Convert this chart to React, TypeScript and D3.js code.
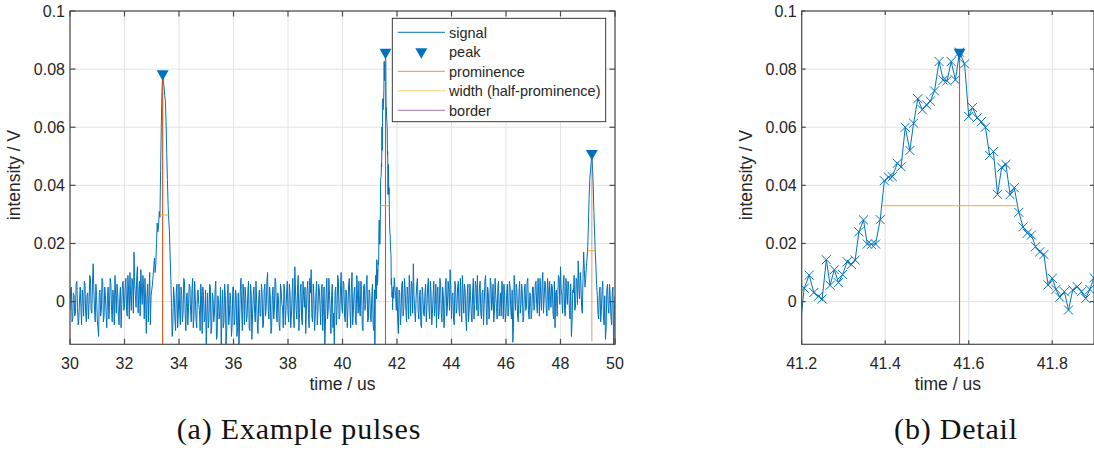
import * as d3 from 'd3';
import React from 'react';

// overview signal in mV, one sample every 0.05 us starting at 30 us
const T0 = 30;
const DT = 0.05;
const signalMv = [
  -3, 5, -6, 2, -4, 7, -8, 1, -2, 4, -5, 6, -7, 3, -1, 8, -4, 13, -3, 6,
  -6, -12, 4, -3, 7, -5, 2, -9, 5, -2, 6, -7, 1, 9, -4, 3, -8, 5, -1, 7,
  -2, 8, -5, 4, 10, -3, 6, 17, 2, 9, -4, 7, 11, -1, 5, 8, -11, 6, 3, -8,
  4, 9, 15, 13, 27, 26, 29, 60, 78.4, 74, 69, 51, 33, 24, 8, -12, 5, -6, 3, -9,
  6, -8, 2, -4, 7, -10, 3, -2, 5, -7, 8, -5, 1, -9, 4, -3, 6, -11, 2, -6,
  -17, 3, -6, 5, -9, 1, -4, 7, -12, 0, -3, -18, 4, -7, 2, -10, 6, -5, -1, -8,
  5, -6, 2, -9, -17, 4, -3, 6, -8, 1, -5, 7, -10, 3, -4, 5, -7, 0, -11, 4,
  -5, 3, -8, 6, -2, 10, -6, 2, -9, 5, -3, 7, -7, 1, -10, 4, -2, 6, -8, 3,
  -4, 6, -9, 2, -5, 12, -3, 5, -10, 3, -6, 7, -2, -11, 4, -4, 8, 11, -7, 2,
  -5, 7, -3, 4, -8, 6, -2, -16, 3, -6, 8, -4, 2, -9, -16, 5, -3, 7, -5, 10,
  -4, 6, -7, 3, -2, 8, -9, 10, -3, 5, -8, 2, 7, -5, 4, -10, 6, -1, 9, -6,
  3, -7, 6, -10, -4, 1, 11, 27, 42, 58, 68, 79, 64, 50, 37, 23, 8, 4, 8, 2,
  5, -11, 3, -4, 7, -2, 4, -7, 2, 9, -5, 6, 13, -3, 1, 8, -6, 4, -9, 2,
  -5, 6, -2, 8, -6, 3, -4, 7, -1, -9, 5, -3, 6, -7, 2, -4, 8, -2, 4, 11,
  -6, 3, -8, 5, -2, 7, -5, 1, 9, -4, 4, -10, 6, -3, 2, -7, 8, -1, 5, 9,
  -3, 7, -6, 4, -1, 9, -8, 3, -4, 6, 0, -7, 8, -2, 5, -5, 3, 7, -6, 2,
  -4, 6, -2, 5, -6, -14, 9, -3, 4, -7, 7, -1, 3, -5, 6, -2, 8, -6, 2, -3,
  5, -2, 7, -4, 3, 8, -3, 10, 1, 6, -5, 4, 7, -2, 5, -6, -9, 4, 2, 8,
  12, 2, 6, -3, 8, -1, 5, -6, -12, 4, 9, -2, 7, 14, 1, 6, -4, 17, 5, 12,
  19, 36, 45, 51, 40, 24, 12, 2, -6, 5, -3, 7, -8, -13, 4, -2, 6, -5, 3, -16, 2,
];
// the samples in between, at 30.025 + k * 0.05 us
const signalMidMv = [
  4, -7, 3, -5, 6, -2, -6, 5, -8, 1, 7, -4, 2, -6, 9, -3, 6, 4, -7, 2,
  -9, 3, -5, 8, -7, 5, -4, 2, -6, 8, -3, 4, -8, 2, 6, -5, 1, -9, 6, -3,
  5, -3, 9, -6, 2, 8, -4, 6, -2, 12, 3, -5, 4, 9, -6, 1, 2, -7, 10, 2,
  6, 12, 10, 20, 24, 31, 45, 72, 76, 71, 62, 42, 28, 15, -2, -8, 2, -10, 6, -4,
  -3, 5, -7, 8, -4, 2, -8, 6, -3, 4, -9, 7, -6, 3, -1, -10, 2, 5, -7, 4,
  -4, -9, 6, -11, 3, -7, 4, -13, 2, -6, 5, -3, -9, 6, -15, 2, -8, 3, -12, 5,
  -8, 4, -12, 3, -6, 8, -10, 2, 5, -7, 3, -9, 6, -13, 2, -4, 7, -8, 1, -5,
  6, -9, 4, -5, 7, -3, 5, -11, 2, -6, 8, -4, 3, -8, 6, -1, -9, 4, -3, 7,
  -7, 3, -5, 8, -9, 4, -6, 9, -4, 6, -8, 2, 5, -3, 7, -9, 3, -5, 6, -10,
  3, -8, 6, -2, 4, -10, 5, -7, 8, -3, 2, -11, 6, -4, 3, -8, 9, -6, 4, -2,
  7, -5, 4, -9, 6, -3, 5, -8, 3, -6, 9, -4, -2, 7, -8, 5, -3, 6, -7, 4,
  -5, 2, -8, 4, -2, 5, 18, 35, 50, 63, 74, 72, 57, 43, 30, 15, 6, 2, 5, -3,
  -6, 4, -8, 6, -5, 8, -3, 5, -6, 3, 7, -4, 2, -7, 6, -3, 2, -8, 5, -4,
  3, -7, 5, -3, 7, -8, 2, -5, 6, 3, -6, 8, -4, 5, -9, 6, -5, 7, -3, 4,
  2, -6, 7, -4, 5, -3, 8, -7, 3, 6, -5, 2, -7, 6, -4, 3, -6, 7, -3, -5,
  5, -4, 3, -8, 7, -2, 5, -6, 8, -3, 6, -4, 2, -6, 7, -2, -5, 4, 6, -7,
  3, -5, 7, -3, 4, -9, 2, 6, -5, 3, -4, 6, -7, 4, -3, 7, -4, 3, -6, 5,
  -3, 6, -1, 8, -5, 2, 6, -4, 7, -2, 8, -3, 2, 6, -4, 7, 3, -5, 9, -1,
  4, -4, 9, -5, 3, 7, -3, 6, -7, 3, -3, 8, -1, 5, 10, -2, 8, 11, 8, 15,
  27, 42, 48, 46, 31, 17, 6, -4, 3, -7, 4, -5, 2, -9, 6, -4, 2, -8, 5, -3,
];

// detail around the second pulse (us, V)
const detailTime = [
  41.188, 41.206, 41.218, 41.229, 41.24, 41.249, 41.259, 41.268, 41.278, 41.288,
  41.298, 41.309, 41.319, 41.328, 41.337, 41.348, 41.357, 41.367, 41.377, 41.388,
  41.398, 41.408, 41.417, 41.429, 41.438, 41.448, 41.459, 41.468, 41.478, 41.489,
  41.499, 41.508, 41.518, 41.529, 41.539, 41.548, 41.558, 41.568, 41.578, 41.59,
  41.6, 41.609, 41.62, 41.63, 41.64, 41.65, 41.659, 41.669, 41.679, 41.689,
  41.699, 41.709, 41.72, 41.73, 41.74, 41.75, 41.76, 41.77, 41.78, 41.79,
  41.8, 41.809, 41.818, 41.829, 41.839, 41.849, 41.86, 41.87, 41.88, 41.89, 41.9,
];
const detailV = [
  -0.02, 0.0046, 0.0091, 0.0031, 0.0018, 0.0009, 0.0144, 0.0056, 0.011, 0.0065,
  0.0093, 0.0137, 0.0128, 0.0143, 0.024, 0.0281, 0.0198, 0.0197, 0.0198, 0.0282,
  0.0416, 0.0428, 0.043, 0.0476, 0.0464, 0.06, 0.052, 0.0614, 0.0698, 0.066,
  0.0677, 0.069, 0.0725, 0.0826, 0.0762, 0.076, 0.0826, 0.0763, 0.0858, 0.0818,
  0.0637, 0.0668, 0.0632, 0.0619, 0.06, 0.0503, 0.0516, 0.0369, 0.0462, 0.0472,
  0.0368, 0.0392, 0.0307, 0.0257, 0.0235, 0.0229, 0.0189, 0.0171, 0.0162, 0.0057,
  0.008, 0.0042, 0.0015, 0.0034, -0.0029, 0.004, 0.0051, 0.0034, 0.0011, 0.0042, 0.0082,
];

const peakTime = [33.4, 41.578, 49.15];
const peakV = [0.0784, 0.0858, 0.051];
const promBase = [-0.02, -0.0198, -0.0137];
const widthLeft = [33.31, 41.393, 49.0];
const widthRight = [33.62, 41.717, 49.27];
const widthLevel = [0.0298, 0.033, 0.0175];

const xTicksA = [30, 32, 34, 36, 38, 40, 42, 44, 46, 48, 50];
const xTicksB = [41.2, 41.4, 41.6, 41.8];
const yTicks = [0, 0.02, 0.04, 0.06, 0.08, 0.1];
const legendLabels = ['signal', 'peak', 'prominence', 'width (half-prominence)', 'border'];

const SANS = "'Liberation Sans', Arial, Helvetica, sans-serif";
const INK = '#262626';
const GRID = '#e2e2e2';
const BLUE = '#0072BD';
const RED = '#D95319';
const YEL = '#EDB120';
const PURP = '#7E2F8E';

const TOP = 11;
const BOTTOM = 344.3;
const y = d3.scaleLinear().domain([-0.0147, 0.1]).range([BOTTOM, TOP]);
const xA = d3.scaleLinear().domain([30, 50]).range([70, 615]);
const xB = d3.scaleLinear().domain([41.2, 41.9]).range([801.7, 1094]);

type Pt = [number, number];
type Scale = d3.ScaleLinear<number, number>;

const triangle = d3.symbol(d3.symbolTriangle, 62)() as string;
const cross = d3.symbol(d3.symbolX, 55)() as string;

function Grid({ x, ticks }: { x: Scale; ticks: number[] }) {
  const [x0, x1] = x.range();
  return (
    <g stroke={GRID} strokeWidth={1}>
      {ticks.map(t => <line key={'v' + t} x1={x(t)} x2={x(t)} y1={TOP} y2={BOTTOM} />)}
      {yTicks.map(t => <line key={'h' + t} x1={x0} x2={x1} y1={y(t)} y2={y(t)} />)}
    </g>
  );
}

function Frame({ x, ticks, tick }: { x: Scale; ticks: number[]; tick: number }) {
  const [x0, x1] = x.range();
  return (
    <g>
      <rect x={x0} y={TOP} width={x1 - x0} height={BOTTOM - TOP} fill="none" stroke="#4a4a4a" strokeWidth={1.2} />
      <g stroke="#4a4a4a" strokeWidth={1.2}>
        {ticks.map(t => (
          <g key={t}>
            <line x1={x(t)} x2={x(t)} y1={BOTTOM} y2={BOTTOM - tick} />
            <line x1={x(t)} x2={x(t)} y1={TOP} y2={TOP + tick} />
          </g>
        ))}
        {yTicks.map(t => (
          <g key={t}>
            <line x1={x0} x2={x0 + tick} y1={y(t)} y2={y(t)} />
            <line x1={x1} x2={x1 - tick} y1={y(t)} y2={y(t)} />
          </g>
        ))}
      </g>
      <g fontFamily={SANS} fontSize={16} fill={INK}>
        {ticks.map(t => (
          <text key={t} x={x(t)} y={BOTTOM + 25} textAnchor="middle">{String(t)}</text>
        ))}
        {yTicks.map(t => (
          <text key={t} x={x0 - 5} y={y(t) + 5.5} textAnchor="end">{String(t)}</text>
        ))}
      </g>
      <g fontFamily={SANS} fontSize={17.5} fill={INK}>
        <text x={(x0 + x1) / 2} y={390} textAnchor="middle">time / us</text>
        <text transform={`translate(${x0 - 50},175) rotate(-90)`} textAnchor="middle">intensity / V</text>
      </g>
    </g>
  );
}

function Annotations({ x, clip }: { x: Scale; clip: string }) {
  return (
    <g clipPath={`url(#${clip})`}>
      {peakTime.map((t, i) => (
        <line key={'p' + i} x1={x(t)} x2={x(t)} y1={y(peakV[i])} y2={y(promBase[i])}
          stroke={RED} strokeWidth={1.1} strokeOpacity={i === 2 ? 0.55 : 1} />
      ))}
      {widthLevel.map((w, i) => (
        <line key={'w' + i} x1={x(widthLeft[i])} x2={x(widthRight[i])} y1={y(w)} y2={y(w)}
          stroke={YEL} strokeWidth={1} />
      ))}
      {peakTime.map((t, i) => (
        <path key={'m' + i} d={triangle} transform={`translate(${x(t)},${y(peakV[i])}) rotate(180)`} fill={BLUE} />
      ))}
    </g>
  );
}

export default function App() {
  const coarse: Pt[] = [
    ...signalMv.map((v, i): Pt => [T0 + i * DT, v / 1000]),
    ...signalMidMv.map((v, i): Pt => [T0 + DT / 2 + i * DT, v / 1000]),
  ].sort((a, b) => a[0] - b[0]);
  const detail: Pt[] = detailTime.map((t, i) => [t, detailV[i]]);
  const overview: Pt[] = [
    ...coarse.filter(d => d[0] < 41.18),
    ...detail,
    ...coarse.filter(d => d[0] > 41.91),
  ];

  const lineA = d3.line<Pt>().x(d => xA(d[0])).y(d => y(d[1]));
  const lineB = d3.line<Pt>().x(d => xB(d[0])).y(d => y(d[1]));

  const [ax0, ax1] = xA.range();
  const [bx0, bx1] = xB.range();

  const legX = 392.3;
  const legY = 18.3;
  const rowY = (i: number) => 32.3 + i * 19.5;
  const legColors = [BLUE, BLUE, RED, YEL, PURP];

  return (
    <svg width={1094} height={450} style={{ position: 'absolute', left: 0, top: 0, background: '#fff' }}>
      <defs>
        <clipPath id="clipA"><rect x={ax0} y={TOP} width={ax1 - ax0} height={BOTTOM - TOP} /></clipPath>
        <clipPath id="clipB"><rect x={bx0} y={TOP} width={bx1 - bx0} height={BOTTOM - TOP} /></clipPath>
      </defs>

      {/* (a) overview */}
      <Grid x={xA} ticks={xTicksA} />
      <path d={lineA(overview) ?? ''} fill="none" stroke={BLUE} strokeWidth={1} clipPath="url(#clipA)" />
      <Annotations x={xA} clip="clipA" />
      <Frame x={xA} ticks={xTicksA} tick={5.5} />

      <g>
        <rect x={legX} y={legY} width={213.4} height={103.4} fill="#fff" stroke={INK} strokeWidth={0.9} />
        {legendLabels.map((lab, i) => (
          <g key={lab}>
            {i === 1 ? (
              <path d={triangle} transform={`translate(${legX + 29},${rowY(i)}) rotate(180)`} fill={BLUE} />
            ) : (
              <line x1={legX + 5.4} x2={legX + 52.7} y1={rowY(i)} y2={rowY(i)} stroke={legColors[i]}
                strokeWidth={1} strokeOpacity={i === 0 ? 1 : 0.65} />
            )}
            <text x={legX + 56.7} y={rowY(i) + 5.2} fontFamily={SANS} fontSize={14.5} fill={INK}>{lab}</text>
          </g>
        ))}
      </g>

      {/* (b) detail */}
      <Grid x={xB} ticks={xTicksB} />
      <g clipPath="url(#clipB)">
        <path d={lineB(detail) ?? ''} fill="none" stroke={BLUE} strokeWidth={1} />
        {detail.map((d, i) => (
          <path key={i} d={cross} transform={`translate(${xB(d[0])},${y(d[1])})`} fill="none" stroke={BLUE} strokeWidth={1} />
        ))}
      </g>
      <Annotations x={xB} clip="clipB" />
      <Frame x={xB} ticks={xTicksB} tick={4} />

      <g fontFamily="'Liberation Serif', 'Times New Roman', serif" fontSize={30} fill="#111" letterSpacing={0.8}>
        <text x={299} y={439} textAnchor="middle">(a) Example pulses</text>
        <text x={956} y={439} textAnchor="middle">(b) Detail</text>
      </g>
    </svg>
  );
}
